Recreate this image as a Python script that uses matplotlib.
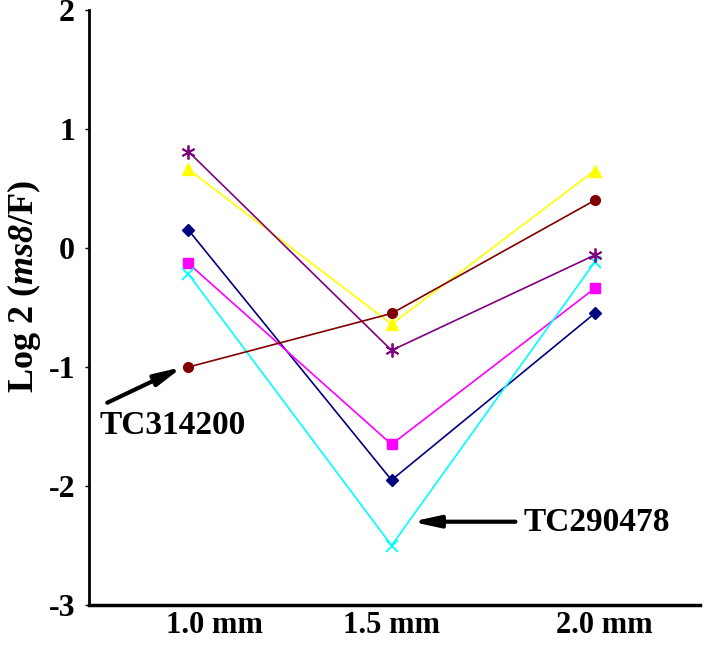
import matplotlib.pyplot as plt

# Data
sizes = ['1.0 mm', '1.5 mm', '2.0 mm']
x = [0, 1, 2]

navy_diamond = [0.15, -1.95, -0.55]
magenta_square = [-0.13, -1.65, -0.34]
yellow_triangle = [0.66, -0.64, 0.65]
cyan_x = [-0.22, -2.50, -0.12]
purple_star = [0.81, -0.86, -0.06]
brown_circle = [-1.00, -0.55, 0.40]

plt.rcParams['font.family'] = ['Liberation Serif', 'DejaVu Serif']
plt.rcParams['font.weight'] = 'bold'
plt.rcParams['mathtext.fontset'] = 'custom'
plt.rcParams['mathtext.bfit'] = 'Liberation Serif:bold:italic'
plt.rcParams['mathtext.rm'] = 'Liberation Serif:bold'

fig = plt.figure(figsize=(7.08, 6.47), dpi=100)
ax = fig.add_axes([0.1257, 0.0649, 0.8633, 0.9196])

ax.plot(x, navy_diamond, color='#000080', marker='D', markersize=6, lw=1.2)
ax.plot(x, magenta_square, color='#FF00FF', marker='s', markersize=7, lw=1.2)
ax.plot(x, yellow_triangle, color='#FFFF00', marker='^', markersize=8, lw=1.2)
ax.plot(x, cyan_x, color='#00FFFF', marker='x', markersize=8, mew=1.3, lw=1.2)
ax.plot(x, purple_star, color='#800080', marker=(6, 2, 0), markersize=10, mew=1.3, lw=1.2)
ax.plot(x, brown_circle, color='#800000', marker='o', markersize=7, lw=1.2)

ax.set_xlim(-0.49, 2.52)
ax.set_ylim(-3, 2)
ax.set_yticks([-3, -2, -1, 0, 1, 2])
ax.set_yticklabels(['-3', '-2', '-1', '0', '1', '2'], fontsize=23, fontweight='bold')
ax.set_xticks([0.13, 1.0, 2.05])
ax.set_xticklabels(sizes, fontsize=22, fontweight='bold')
ax.tick_params(axis='x', length=0, pad=4)
ax.tick_params(axis='y', length=3, width=1, pad=7)

ax.spines['top'].set_visible(False)
ax.spines['right'].set_visible(False)
ax.spines['left'].set_linewidth(2)
ax.spines['bottom'].set_linewidth(2.5)

ax.set_ylabel(r'Log 2 ($\mathbfit{ms8}$/F)', fontsize=26, fontweight='bold')
ax.yaxis.set_label_coords(-0.076, 0.535)

# Annotations
arrow = dict(arrowstyle='-|>,head_length=1.6,head_width=0.35', color='black', lw=3, shrinkA=0, shrinkB=0)
ax.annotate('', xy=(-0.03, -1.0), xytext=(-0.40, -1.30), arrowprops=arrow)
ax.text(-0.08, -1.49, 'TC314200', fontsize=24, fontweight='bold', ha='center', va='center')
ax.annotate('', xy=(1.10, -2.30), xytext=(1.61, -2.30), arrowprops=arrow)
ax.text(2.01, -2.31, 'TC290478', fontsize=24, fontweight='bold', ha='center', va='center')

plt.savefig('out.png', dpi=100)
